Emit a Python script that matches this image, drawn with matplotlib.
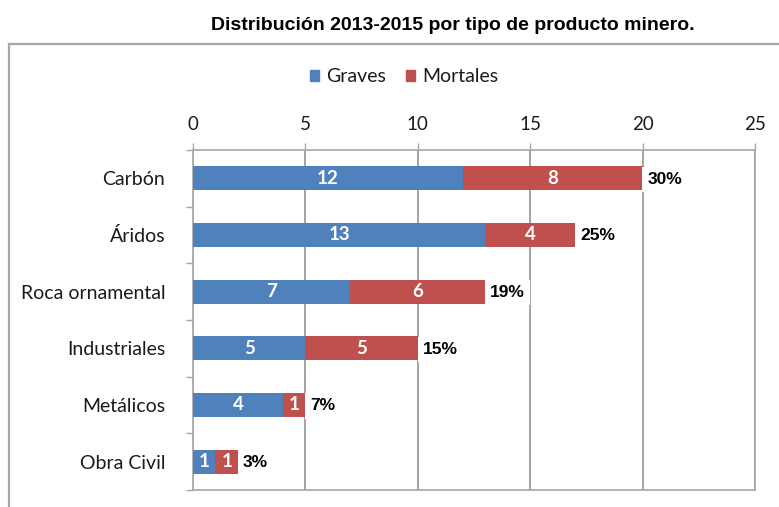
import matplotlib
matplotlib.use("Agg")
import matplotlib.pyplot as plt
from matplotlib.lines import Line2D
from matplotlib.patches import Patch
import numpy as np

# Data
categorias = ["Carbón", "Áridos", "Roca ornamental", "Industriales", "Metálicos", "Obra Civil"]
graves = [12, 13, 7, 5, 4, 1]
mortales = [8, 4, 6, 5, 1, 1]
porcentajes = ["30%", "25%", "19%", "15%", "7%", "3%"]
ticks_x = [0, 5, 10, 15, 20, 25]

BLUE = "#4F81BD"
RED = "#C0504D"
GRID = "#8C8C8C"
FRAME = "#A6A6A6"
TEXT = "#1a1a1a"

W, H = 779, 507
fig = plt.figure(figsize=(W / 100, H / 100), dpi=100)

# Outer chart frame (top and left edges)
fig.add_artist(Line2D([9 / W, 1.0], [1 - 44 / H, 1 - 44 / H], color=FRAME, lw=1.6,
                      transform=fig.transFigure))
fig.add_artist(Line2D([9 / W, 9 / W], [1 - 44 / H, 0.0], color=FRAME, lw=1.6,
                      transform=fig.transFigure))

fig.text(453 / W, 1 - 26 / H, "Distribución 2013-2015 por tipo de producto minero.",
         ha="center", va="center", fontsize=14, fontweight="bold",
         family="Liberation Sans", color="black")

ax = fig.add_axes([193 / W, (H - 490) / H, (755 - 193) / W, (490 - 150) / H])

y = np.arange(len(categorias))
h = 0.42
b1 = ax.barh(y, graves, height=h, color=BLUE, zorder=3)
b2 = ax.barh(y, mortales, left=graves, height=h, color=RED, zorder=3)

for yi, g, m, p in zip(y, graves, mortales, porcentajes):
    ax.text(g / 2, yi, str(g), ha="center", va="center", color="white",
            fontsize=13.5, fontweight="bold", family="Lato", zorder=4)
    ax.text(g + m / 2, yi, str(m), ha="center", va="center", color="white",
            fontsize=13.5, fontweight="bold", family="Lato", zorder=4)
    ax.annotate(p, xy=(g + m, yi), xytext=(5, -1), textcoords="offset pixels",
                ha="left", va="center", fontsize=12.5, fontweight="bold",
                family="Liberation Sans", color="black", zorder=5,
                bbox=dict(boxstyle="square,pad=0.3", fc="white", ec="none"))

ax.set_xlim(0, 25)
ax.set_ylim(len(categorias) - 0.5, -0.5)

ax.xaxis.tick_top()
ax.set_xticks(ticks_x)
ax.set_xticklabels([str(t) for t in ticks_x], family="Lato", fontsize=13.5, color=TEXT)
ax.tick_params(axis="x", direction="out", length=5, width=1, color=FRAME, pad=7)

ax.set_yticks(y)
ax.set_yticklabels(categorias, family="Lato", fontsize=14, color=TEXT)
ax.set_yticks(np.arange(-0.5, len(categorias), 1.0), minor=True)
ax.tick_params(axis="y", which="major", length=0, pad=20)
ax.tick_params(axis="y", which="minor", direction="out", length=5, width=1, color=FRAME)

for s in ax.spines.values():
    s.set_color(FRAME)
    s.set_linewidth(1.2)

ax.xaxis.grid(True, color=GRID, lw=1.1, zorder=0)
ax.set_axisbelow(True)

handles = [Patch(color=BLUE, label="Graves"), Patch(color=RED, label="Mortales")]
fig.legend(handles=handles, loc="center", bbox_to_anchor=(404 / W, 1 - 77 / H),
           ncol=2, frameon=False, prop={"family": "Lato", "size": 14},
           handlelength=0.5, handleheight=0.5, handletextpad=0.35,
           columnspacing=1.0, labelcolor=TEXT)

fig.savefig("out.png", dpi=100)
